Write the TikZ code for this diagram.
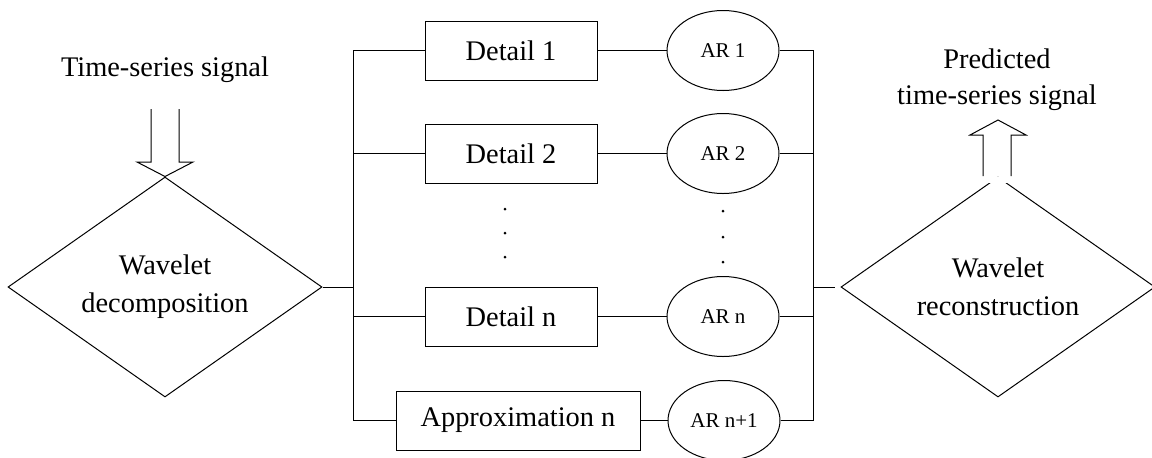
\documentclass[tikz,border=0pt]{standalone}
\usepackage{fontspec}
\setmainfont{Liberation Serif}
\usetikzlibrary{shapes.geometric}
\begin{document}
\begin{tikzpicture}[x=0.5pt,y=-0.5pt, line width=0.5pt,
  lbl/.style={font=\fontsize{14.2}{18}\selectfont, inner sep=0pt, align=center},
  dia/.style={draw, shape=diamond, shape aspect=1.43, minimum width=157pt, minimum height=110pt, inner sep=0pt, align=center, font=\fontsize{14.2}{19}\selectfont},
  box/.style={draw, rectangle, minimum width=86pt, minimum height=29.5pt, inner sep=0pt, font=\fontsize{14.2}{17}\selectfont},
  arnode/.style={draw, ellipse, minimum width=56pt, minimum height=40pt, inner sep=0pt, font=\fontsize{10.5}{12}\selectfont},
  dotmark/.style={fill, circle, inner sep=0pt, minimum size=1.5pt},
  blockarrow/.style={line join=miter}]
\useasboundingbox (0,0) rectangle (1152,457);

% diamonds
\node[dia] (dec) at (165,287) {Wavelet\\decomposition};
\node[dia] (rec) at (998,287) {Wavelet\\reconstruction};

% texts
\node[lbl, anchor=base] (in) at (165,76) {Time-series signal};
\node[lbl] (out) at (997,80) {Predicted\\time-series signal};

% boxes
\node[box] (d1) at (511,50.5) {Detail 1};
\node[box] (d2) at (511,153.5) {Detail 2};
\node[box] (dn) at (511,316.5) {Detail n};
\node[box, minimum width=122pt] (an) at (518,420.5) {Approximation n};

% AR ellipses
\node[arnode] (ar1) at (723,50.5) {AR 1};
\node[arnode] (ar2) at (723,153.5) {AR 2};
\node[arnode] (arn) at (723,316.5) {AR n};
\node[arnode] (arn1) at (724,420.5) {AR n+1};

% dots
\node[dotmark] (ldA) at (505,209) {};
\node[dotmark] (ldB) at (505,233) {};
\node[dotmark] (ldC) at (505,257) {};
\node[dotmark] (rdA) at (723,211) {};
\node[dotmark] (rdB) at (723,237) {};
\node[dotmark] (rdC) at (723,262) {};

% buses
\coordinate (lbtop) at (353,50.5);
\coordinate (lbbot) at (353,420.5);
\coordinate (rbtop) at (813,50.5);
\coordinate (rbbot) at (813,420.5);
\coordinate (stub) at (835,287);

\draw (d1.west) -- (lbtop) -- (lbbot) -- (an.west);
\draw (d2.west) -- (d2.west -| lbtop);
\draw (dn.west) -- (dn.west -| lbtop);
\draw (dec.east) -- (dec.east -| lbtop);

\draw (d1) -- (ar1);
\draw (d2) -- (ar2);
\draw (dn) -- (arn);
\draw (an) -- (arn1);

\draw (ar1.east) -- (rbtop) -- (rbbot) -- (arn1.east);
\draw (ar2.east) -- (ar2.east -| rbtop);
\draw (arn.east) -- (arn.east -| rbtop);
\draw (stub -| rbtop) -- (stub);

% block arrows
\draw[blockarrow] (151,109) -- (151,162) -- (137,162) -- (dec.north) -- (193,162) -- (179,162) -- (179,109);
\fill[white] (984,176.5) rectangle (1010,183);
\draw[blockarrow] (983,176) -- (983,135) -- (970,135) -- (998,120) -- (1026,135) -- (1011,135) -- (1011,176);
\end{tikzpicture}
\end{document}
